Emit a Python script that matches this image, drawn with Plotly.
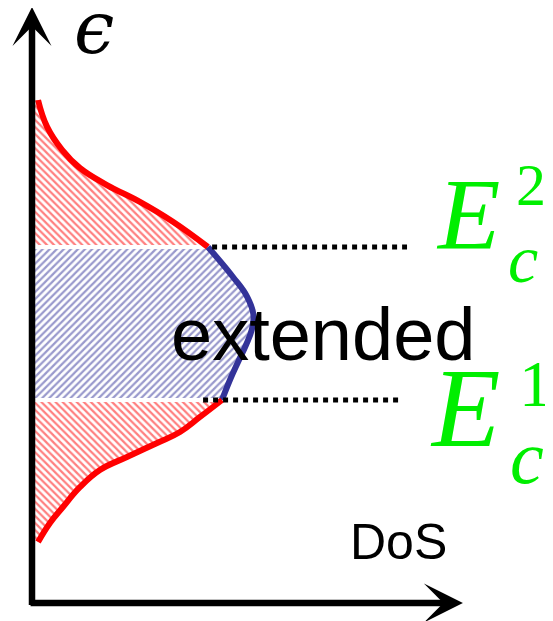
import plotly.graph_objects as go

# ---- data (DoS in arbitrary units, energy in units where E_c = +/-1) ----
ec_upper = 1.0
ec_lower = -1.0

dos_top_tail = [0.014, 0.055, 0.123, 0.205, 0.327, 0.477, 0.627, 0.786]
e_top_tail = [2.92, 2.57, 2.27, 2.03, 1.81, 1.59, 1.33, 1.0]

dos_extended = [0.786, 0.90, 0.965, 0.993, 0.985, 0.959, 0.923, 0.886, 0.85]
e_extended = [1.0, 0.608, 0.346, 0.111, -0.085, -0.281, -0.503, -0.739, -1.0]

dos_bottom_tail = [0.85, 0.75, 0.659, 0.555, 0.418, 0.295, 0.205, 0.127, 0.068, 0.014]
e_bottom_tail = [-1.0, -1.222, -1.418, -1.562, -1.745, -1.915, -2.137, -2.399, -2.608, -2.856]

dotted_upper_x = [0.805, 1.691]
dotted_lower_x = [0.764, 1.668]

RED = "#ff0000"
BLUE = "#333399"
GREEN = "#00ee00"

fig = go.Figure()

# hatched fills
for xs, ys, col, shp in [
    (dos_top_tail, e_top_tail, RED, "\\"),
    (dos_extended, e_extended, BLUE, "/"),
    (dos_bottom_tail, e_bottom_tail, RED, "\\"),
]:
    fig.add_trace(go.Scatter(
        x=xs, y=ys, mode="lines", line=dict(width=0, shape="spline", smoothing=1.2, color=col),
        fill="tozerox", fillcolor="rgba(0,0,0,0)",
        fillpattern=dict(shape=shp, fgcolor=col, bgcolor="white", size=5, solidity=0.45),
        hoverinfo="skip", showlegend=False))

# white separators between hatched regions
for ec, xe in [(ec_upper, dos_extended[0]), (ec_lower, dos_extended[-1])]:
    fig.add_trace(go.Scatter(x=[0, xe], y=[ec, ec], mode="lines",
                             line=dict(color="white", width=4),
                             hoverinfo="skip", showlegend=False))

# curves
for xs, ys, col in [
    (dos_top_tail, e_top_tail, RED),
    (dos_extended, e_extended, BLUE),
    (dos_bottom_tail, e_bottom_tail, RED),
]:
    fig.add_trace(go.Scatter(x=xs, y=ys, mode="lines",
                             line=dict(color=col, width=6, shape="spline", smoothing=1.2),
                             hoverinfo="skip", showlegend=False))

# mobility-edge dotted lines
fig.add_trace(go.Scatter(x=dotted_upper_x, y=[ec_upper, ec_upper], mode="lines",
                         line=dict(color="black", width=5, dash="dot"),
                         hoverinfo="skip", showlegend=False))
fig.add_trace(go.Scatter(x=dotted_lower_x, y=[ec_lower, ec_lower], mode="lines",
                         line=dict(color="black", width=5, dash="dot"),
                         hoverinfo="skip", showlegend=False))

x0 = -0.0136
y0 = -3.654
annotations = [
    # axes arrows
    dict(x=x0, y=4.137, ax=x0, ay=-3.70, xref="x", yref="y", axref="x", ayref="y",
         text="", showarrow=True, arrowhead=3, arrowsize=1, arrowwidth=6.5, arrowcolor="black"),
    dict(x=1.945, y=y0, ax=-0.027, ay=y0, xref="x", yref="y", axref="x", ayref="y",
         text="", showarrow=True, arrowhead=3, arrowsize=1, arrowwidth=6.5, arrowcolor="black"),
    # labels
    dict(x=0.27, y=3.86, text="<i>ϵ</i>", showarrow=False, xanchor="center", yanchor="middle",
         font=dict(family="DejaVu Serif", size=72, color="black")),
    dict(x=1.311, y=-0.144, text="extended", showarrow=False, xanchor="center", yanchor="middle",
         font=dict(family="Liberation Sans", size=74, color="black")),
    dict(x=1.65, y=-2.85, text="DoS", showarrow=False, xanchor="center", yanchor="middle",
         font=dict(family="Liberation Sans", size=50, color="black")),
    # E_c^2
    dict(x=1.815, y=1.42, text="<i>E</i>", showarrow=False, xanchor="left", yanchor="middle",
         font=dict(family="Liberation Serif", size=102, color=GREEN)),
    dict(x=2.255, y=1.81, text="2", showarrow=False, xanchor="center", yanchor="middle",
         font=dict(family="Liberation Serif", size=60, color=GREEN)),
    dict(x=2.22, y=0.84, text="<i>c</i>", showarrow=False, xanchor="center", yanchor="middle",
         font=dict(family="Liberation Serif", size=68, color=GREEN)),
    # E_c^1
    dict(x=1.785, y=-1.10, text="<i>E</i>", showarrow=False, xanchor="left", yanchor="middle",
         font=dict(family="Liberation Serif", size=112, color=GREEN)),
    dict(x=2.277, y=-0.78, text="1", showarrow=False, xanchor="center", yanchor="middle",
         font=dict(family="Liberation Serif", size=66, color=GREEN)),
    dict(x=2.235, y=-1.75, text="<i>c</i>", showarrow=False, xanchor="center", yanchor="middle",
         font=dict(family="Liberation Serif", size=76, color=GREEN)),
]

# the page body adds an 8px margin, so the figure is 8px smaller and the
# ranges start 8px in
fig.update_layout(
    width=545, height=613,
    margin=dict(l=0, r=0, t=0, b=0),
    paper_bgcolor="white", plot_bgcolor="white",
    xaxis=dict(range=[-0.1227, 2.3545], visible=False, fixedrange=True),
    yaxis=dict(range=[-3.8889, 4.1242], visible=False, fixedrange=True),
    annotations=annotations,
    showlegend=False,
)

fig.write_html("out.html")
